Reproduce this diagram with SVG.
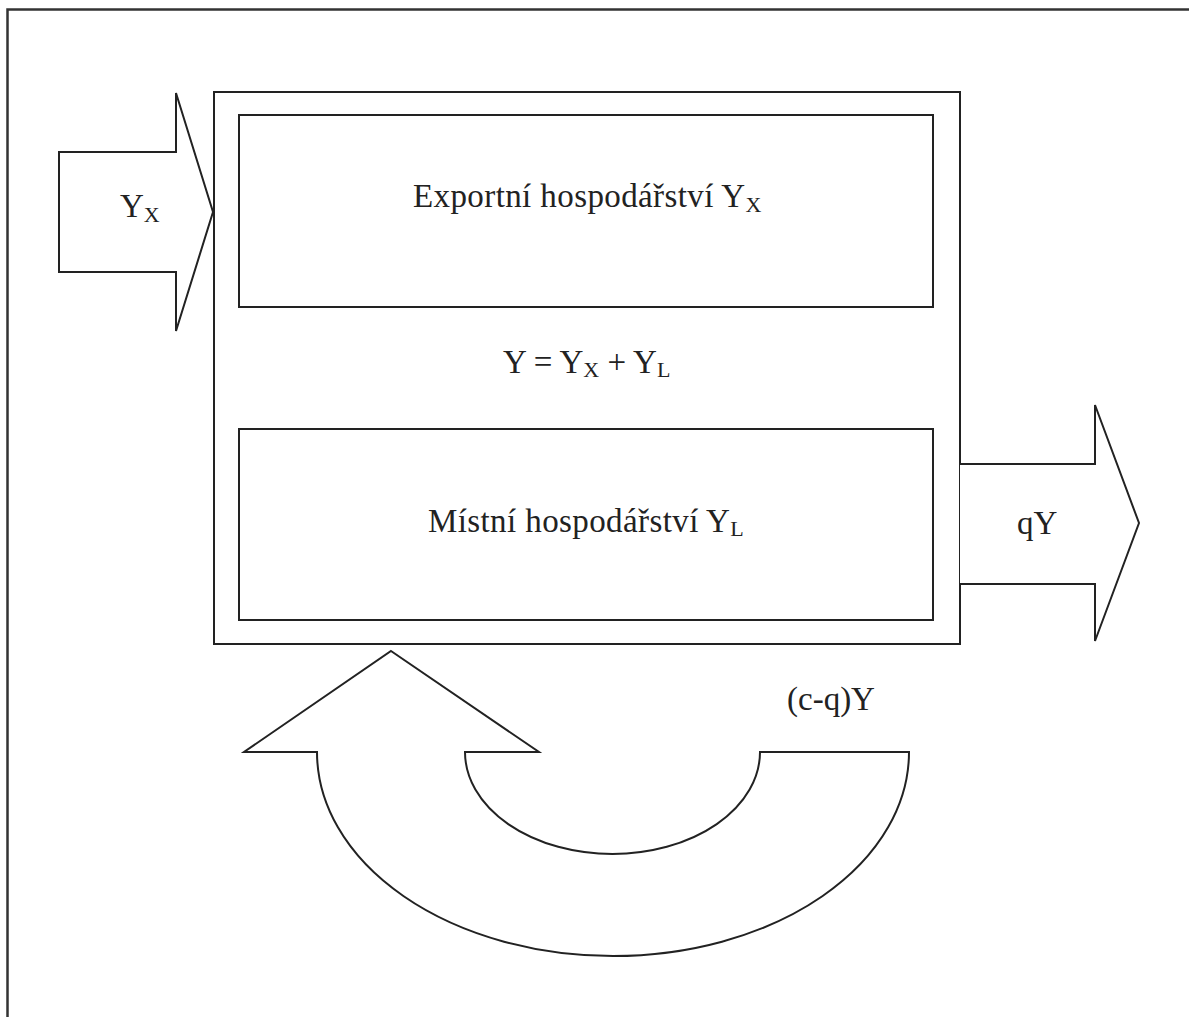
<svg xmlns="http://www.w3.org/2000/svg" width="1189" height="1017" viewBox="0 0 1189 1017">
<style>
.ln{fill:#fff;stroke:#222;stroke-width:2;stroke-linejoin:miter}
.t{font-family:"Liberation Serif","Times New Roman",serif;font-size:33px;fill:#222}
.s{font-size:22px}
</style>
<rect width="1189" height="1017" fill="#fff"/>
<path d="M7.5,1020 V9.5 H1192" fill="none" stroke="#333" stroke-width="2.5"/>
<g id="system">
<rect class="ln" x="214" y="92" width="746" height="552"/>
</g>
<g id="export">
<rect class="ln" x="239" y="115" width="694" height="192"/>
<text class="t" x="413" y="207" letter-spacing="0.4">Exportní hospodářství Y<tspan class="s" dy="5">X</tspan></text>
</g>
<text id="equation" class="t" x="503" y="373">Y = Y<tspan class="s" dy="4">X</tspan><tspan dy="-4"> + Y</tspan><tspan class="s" dy="4">L</tspan></text>
<g id="local">
<rect class="ln" x="239" y="429" width="694" height="191"/>
<text class="t" x="428" y="532" letter-spacing="0.4">Místní hospodářství Y<tspan class="s" dy="4">L</tspan></text>
</g>
<g id="connectors">
<g id="in-arrow">
<path class="ln" d="M59,152 H176 V93 L213,212 L176,331 V272 H59 Z"/>
<text class="t" x="120" y="217">Y<tspan class="s" dy="5">X</tspan></text>
</g>
<g id="out-arrow">
<path class="ln" d="M960,464 H1095 V405 L1139,523 L1095,641 V584 H960"/>
<text class="t" x="1017" y="534">qY</text>
</g>
<g id="loop-arrow">
<path class="ln" d="M391,651 L539,752 H465 A147.5,102 0 0 0 760,752 H909 A296,204 0 0 1 317,752 H244 Z"/>
<text class="t" x="787" y="710">(c-q)Y</text>
</g>
</g>
</svg>
